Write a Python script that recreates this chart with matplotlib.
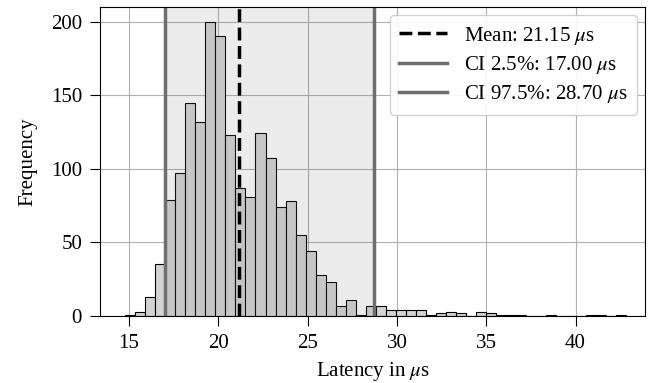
import matplotlib.pyplot as plt
import numpy as np

plt.rcParams['font.family'] = ['Liberation Serif', 'DejaVu Serif']
plt.rcParams['mathtext.fontset'] = 'stix'
plt.rcParams['font.size'] = 15

# histogram counts (50 bins)
counts = [1, 3, 13, 35, 79, 97, 145, 132, 200, 190,
          123, 87, 81, 124, 107, 74, 78, 55, 44, 28,
          23, 7, 11, 1, 7, 7, 4, 4, 4, 4,
          1, 2, 3, 2, 0, 3, 2, 1, 1, 1,
          0, 0, 1, 0, 0, 0, 1, 1, 0, 1]
lat_min = 14.78
lat_max = 42.85

mean_lat = 21.15
ci_low = 17.00
ci_high = 28.70

edges = np.linspace(lat_min, lat_max, len(counts) + 1)
centers = (edges[:-1] + edges[1:]) / 2

fig = plt.figure(figsize=(6.59, 3.83), dpi=100)
ax = fig.add_axes([0.152, 0.175, 0.827, 0.807])
ax.set_axisbelow(True)
ax.grid(color='#b0b0b0', linewidth=0.8)

ax.hist(centers, bins=edges, weights=counts, color='#d3d3d3',
        edgecolor='black', linewidth=0.8)
ax.axvspan(ci_low, ci_high, color='gray', alpha=0.15, linewidth=0)
ax.axvline(mean_lat, color='black', linestyle='--', linewidth=2.5,
           label=r'Mean: %.2f $\mu$s' % mean_lat)
ax.axvline(ci_low, color='#6e6e6e', linewidth=2.5,
           label=r'CI 2.5%%: %.2f $\mu$s' % ci_low)
ax.axvline(ci_high, color='#6e6e6e', linewidth=2.5,
           label=r'CI 97.5%%: %.2f $\mu$s' % ci_high)

ax.set_xlim(13.38, 43.9)
ax.set_ylim(0, 210)
ax.set_xticks([15, 20, 25, 30, 35, 40])
ax.set_yticks([0, 50, 100, 150, 200])
ax.tick_params(length=7, pad=6)
ax.set_xlabel(r'Latency in $\mu$s', labelpad=5)
ax.set_ylabel('Frequency', labelpad=10)
ax.legend(loc='upper right', edgecolor='#cccccc', framealpha=0.9,
          borderaxespad=0.4, handlelength=2.3, labelspacing=0.35,
          borderpad=0.45)

plt.savefig('out.png', dpi=100)
